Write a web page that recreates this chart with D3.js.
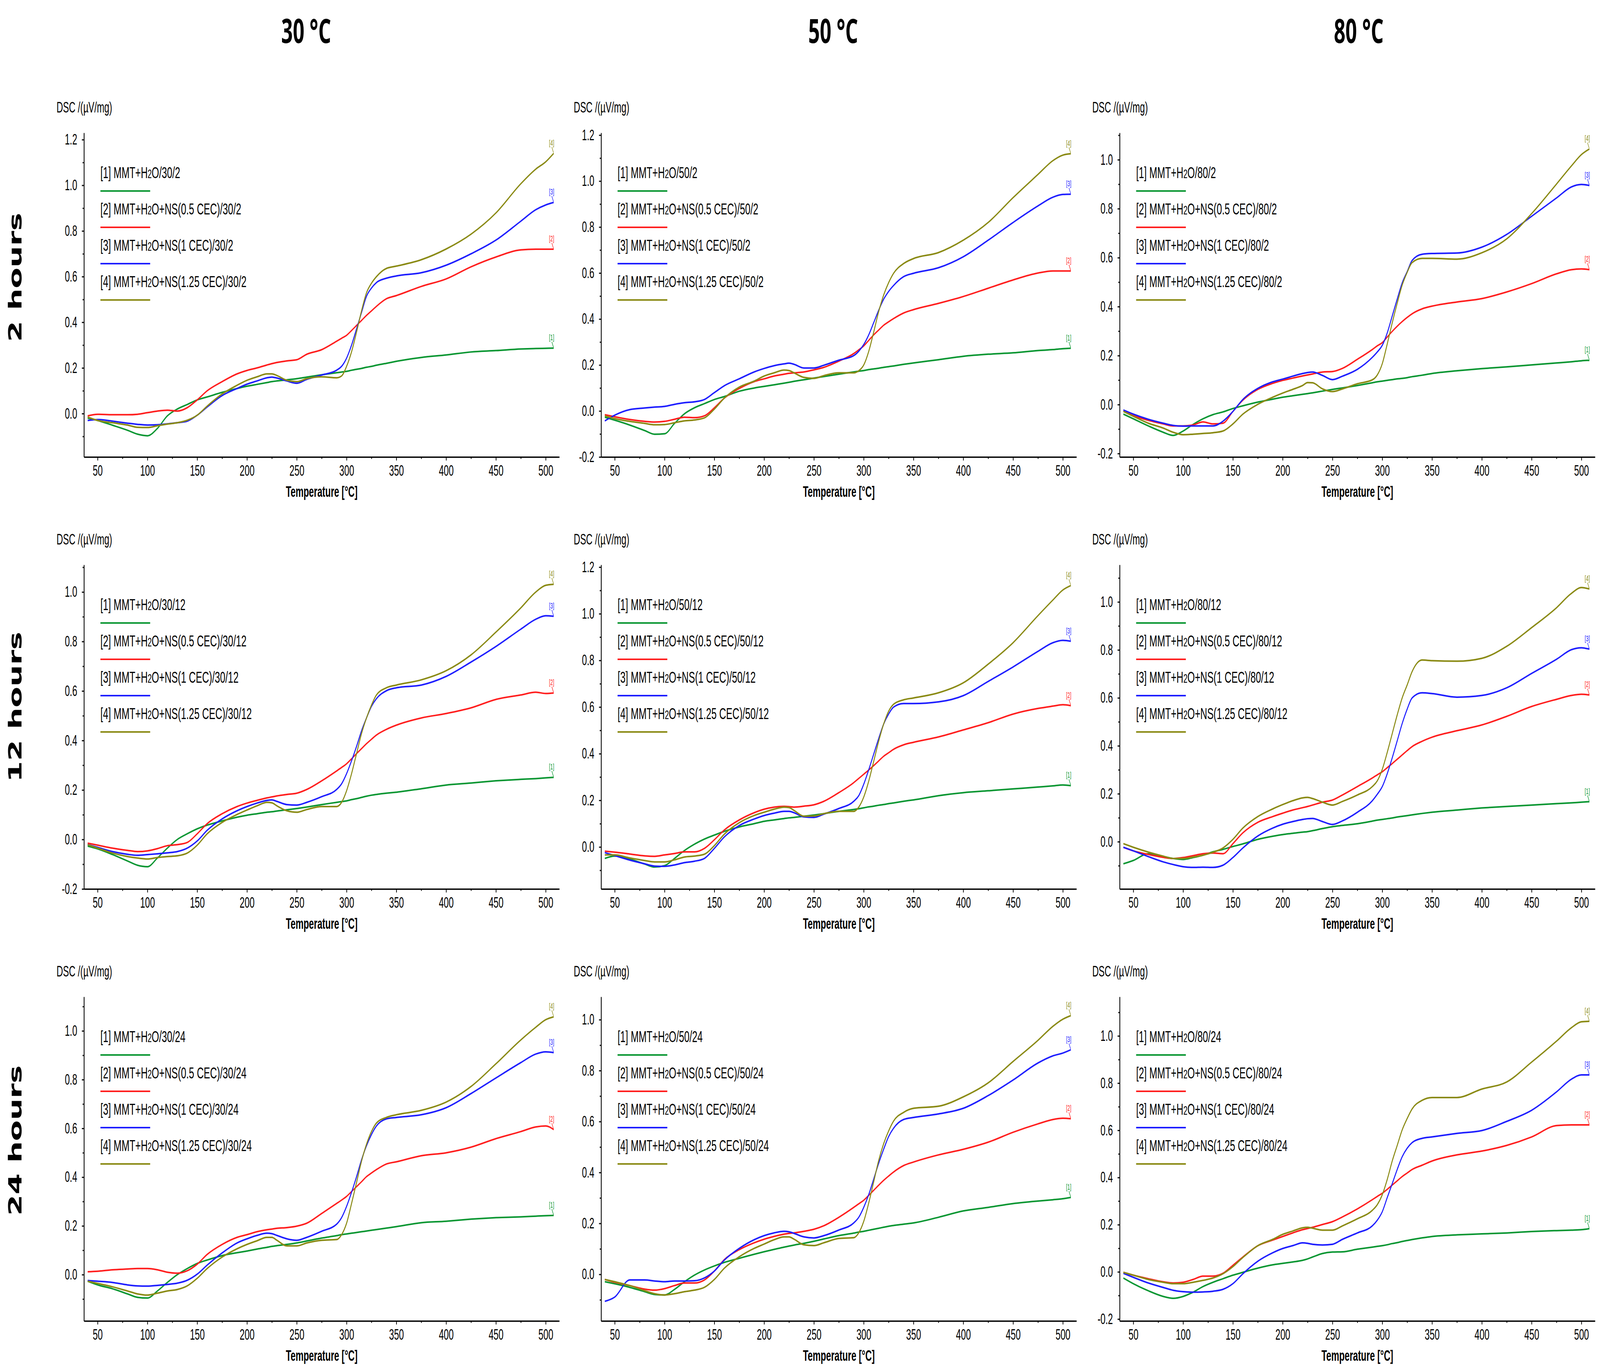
<!DOCTYPE html>
<html><head><meta charset="utf-8">
<script src="https://cdn.jsdelivr.net/npm/d3@7"></script>
<style>html,body{margin:0;padding:0;background:#fff;overflow:hidden}svg{display:block;width:100vw;height:100vh}</style>
</head><body>
<svg id="chart" viewBox="0 0 6819 3505" preserveAspectRatio="none"></svg>
<script>
// ---------------- DATA ----------------
const temps = [40,50,65,80,90,100,110,120,130,140,150,160,175,190,200,210,220,225,230,240,250,260,275,290,295,300,305,310,315,320,325,330,340,350,375,400,425,450,475,490,500,508];

const tempLabels = ["30 °C","50 °C","80 °C"];
const tempCodes  = ["30","50","80"];
const hourLabels = ["2 hours","12 hours","24 hours"];
const hourCodes  = ["2","12","24"];
const seriesNames  = ["MMT+H2O","MMT+H2O+NS(0.5 CEC)","MMT+H2O+NS(1 CEC)","MMT+H2O+NS(1.25 CEC)"];
const seriesColors = ["#0a9632","#ff1e1e","#1e1eff","#8a8a14"];
const xTickValues  = [50,100,150,200,250,300,350,400,450,500];
const xMinorValues = [75,125,175,225,275,325,375,425,475];
const xRange = [36.3, 513.7];
const yMinByPanel = [[-0.19,-0.2,-0.214],[-0.2,-0.18,-0.197],[-0.19,-0.183,-0.208]];
const yMaxByPanel = [[1.23,1.21,1.11],[1.11,1.21,1.155],[1.14,1.09,1.166]];

const dsc30_2 = [
 [-0.02,-0.03,-0.051,-0.073,-0.09,-0.097,-0.065,-0.01,0.02,0.04,0.06,0.073,0.093,0.11,0.12,0.128,0.136,0.14,0.143,0.148,0.153,0.16,0.17,0.179,0.182,0.185,0.19,0.194,0.198,0.203,0.207,0.212,0.22,0.229,0.246,0.257,0.27,0.276,0.283,0.285,0.286,0.287],
 [-0.01,-0.003,-0.005,-0.005,-0.003,0.004,0.011,0.015,0.011,0.026,0.06,0.1,0.14,0.174,0.189,0.2,0.213,0.219,0.224,0.231,0.236,0.26,0.28,0.317,0.33,0.343,0.364,0.386,0.408,0.43,0.45,0.47,0.503,0.517,0.557,0.59,0.643,0.686,0.717,0.72,0.72,0.72],
 [-0.03,-0.026,-0.033,-0.042,-0.047,-0.05,-0.049,-0.045,-0.04,-0.033,-0.007,0.029,0.079,0.11,0.129,0.143,0.157,0.16,0.156,0.143,0.133,0.15,0.169,0.19,0.207,0.243,0.3,0.371,0.443,0.514,0.55,0.574,0.593,0.603,0.617,0.65,0.7,0.76,0.843,0.893,0.914,0.925],
 [-0.015,-0.03,-0.04,-0.05,-0.06,-0.061,-0.053,-0.046,-0.04,-0.029,-0.007,0.033,0.086,0.124,0.146,0.161,0.174,0.174,0.167,0.146,0.14,0.153,0.161,0.157,0.165,0.207,0.271,0.357,0.45,0.529,0.571,0.6,0.636,0.646,0.674,0.721,0.786,0.879,1.007,1.071,1.103,1.14]
];
const dsc50_2 = [
 [-0.027,-0.04,-0.061,-0.085,-0.101,-0.099,-0.054,-0.012,0.014,0.032,0.05,0.063,0.086,0.1,0.107,0.114,0.121,0.125,0.129,0.136,0.143,0.15,0.16,0.17,0.173,0.176,0.18,0.183,0.186,0.19,0.193,0.196,0.203,0.209,0.223,0.238,0.247,0.253,0.263,0.267,0.271,0.273],
 [-0.016,-0.025,-0.037,-0.045,-0.048,-0.045,-0.036,-0.027,-0.029,-0.021,0.014,0.056,0.098,0.128,0.14,0.152,0.16,0.164,0.166,0.17,0.179,0.19,0.217,0.25,0.266,0.283,0.307,0.331,0.352,0.373,0.388,0.402,0.426,0.441,0.468,0.498,0.534,0.57,0.6,0.609,0.609,0.609],
 [-0.043,-0.018,0.006,0.013,0.017,0.02,0.029,0.036,0.04,0.05,0.08,0.11,0.14,0.17,0.185,0.197,0.205,0.208,0.203,0.187,0.187,0.199,0.221,0.241,0.26,0.289,0.331,0.384,0.438,0.486,0.52,0.546,0.584,0.599,0.623,0.671,0.743,0.82,0.892,0.93,0.942,0.943],
 [-0.021,-0.033,-0.045,-0.054,-0.06,-0.059,-0.051,-0.043,-0.039,-0.03,0.008,0.056,0.104,0.13,0.152,0.166,0.178,0.176,0.166,0.146,0.142,0.154,0.166,0.166,0.175,0.2,0.259,0.343,0.432,0.504,0.558,0.599,0.641,0.663,0.689,0.743,0.82,0.928,1.029,1.089,1.113,1.119]
];
const dsc80_2 = [
 [-0.039,-0.058,-0.087,-0.113,-0.126,-0.108,-0.081,-0.058,-0.041,-0.03,-0.016,-0.005,0.01,0.022,0.03,0.036,0.042,0.045,0.048,0.055,0.062,0.068,0.078,0.089,0.093,0.096,0.099,0.102,0.105,0.107,0.11,0.114,0.12,0.127,0.138,0.147,0.154,0.162,0.17,0.175,0.179,0.181],
 [-0.025,-0.045,-0.064,-0.079,-0.087,-0.087,-0.083,-0.071,-0.079,-0.076,-0.028,0.018,0.062,0.087,0.099,0.108,0.117,0.121,0.125,0.133,0.135,0.148,0.185,0.225,0.24,0.253,0.276,0.299,0.32,0.339,0.356,0.371,0.391,0.402,0.419,0.433,0.46,0.494,0.534,0.551,0.554,0.551],
 [-0.022,-0.039,-0.06,-0.076,-0.085,-0.088,-0.087,-0.087,-0.087,-0.068,-0.028,0.021,0.066,0.093,0.104,0.116,0.127,0.131,0.133,0.119,0.102,0.116,0.144,0.193,0.215,0.242,0.293,0.362,0.431,0.497,0.543,0.589,0.614,0.617,0.619,0.643,0.695,0.769,0.844,0.889,0.899,0.895],
 [-0.028,-0.048,-0.076,-0.096,-0.113,-0.123,-0.121,-0.118,-0.115,-0.108,-0.079,-0.039,0.001,0.03,0.047,0.062,0.078,0.09,0.089,0.064,0.053,0.064,0.085,0.101,0.121,0.167,0.248,0.334,0.414,0.488,0.54,0.58,0.597,0.597,0.594,0.62,0.677,0.78,0.901,0.975,1.021,1.044]
];
const dsc30_12 = [
 [-0.027,-0.038,-0.061,-0.087,-0.104,-0.11,-0.075,-0.035,0.0,0.023,0.043,0.058,0.075,0.09,0.098,0.104,0.11,0.112,0.115,0.12,0.125,0.131,0.141,0.15,0.153,0.156,0.161,0.165,0.17,0.175,0.179,0.182,0.187,0.191,0.205,0.22,0.228,0.237,0.243,0.246,0.249,0.251],
 [-0.015,-0.023,-0.035,-0.044,-0.049,-0.046,-0.037,-0.025,-0.021,-0.012,0.023,0.064,0.104,0.133,0.147,0.158,0.168,0.172,0.176,0.182,0.187,0.202,0.237,0.277,0.291,0.306,0.326,0.347,0.367,0.387,0.405,0.422,0.445,0.462,0.491,0.509,0.532,0.566,0.584,0.595,0.59,0.592],
 [-0.021,-0.032,-0.049,-0.06,-0.064,-0.061,-0.058,-0.054,-0.049,-0.035,-0.006,0.037,0.083,0.116,0.133,0.147,0.158,0.16,0.154,0.141,0.139,0.15,0.173,0.202,0.225,0.266,0.318,0.376,0.439,0.491,0.538,0.569,0.601,0.613,0.624,0.659,0.717,0.78,0.85,0.89,0.904,0.902],
 [-0.021,-0.035,-0.055,-0.069,-0.075,-0.079,-0.073,-0.069,-0.066,-0.055,-0.023,0.023,0.069,0.101,0.119,0.136,0.15,0.148,0.136,0.116,0.11,0.121,0.133,0.133,0.15,0.197,0.266,0.347,0.428,0.491,0.543,0.584,0.613,0.624,0.645,0.682,0.746,0.838,0.936,1.0,1.027,1.031]
];
const dsc50_12 = [
 [-0.049,-0.039,-0.052,-0.073,-0.086,-0.08,-0.049,-0.015,0.012,0.034,0.051,0.067,0.086,0.1,0.11,0.116,0.122,0.125,0.127,0.132,0.137,0.143,0.153,0.161,0.164,0.168,0.172,0.175,0.179,0.182,0.186,0.189,0.196,0.202,0.22,0.233,0.241,0.249,0.257,0.262,0.266,0.263],
 [-0.018,-0.022,-0.03,-0.038,-0.04,-0.034,-0.028,-0.021,-0.021,-0.006,0.031,0.073,0.116,0.147,0.162,0.171,0.174,0.173,0.171,0.175,0.181,0.196,0.233,0.276,0.294,0.312,0.33,0.349,0.369,0.389,0.404,0.419,0.438,0.449,0.472,0.502,0.533,0.57,0.594,0.604,0.61,0.606],
 [-0.024,-0.037,-0.056,-0.072,-0.082,-0.083,-0.077,-0.067,-0.061,-0.049,-0.006,0.043,0.092,0.12,0.135,0.145,0.153,0.153,0.147,0.129,0.127,0.141,0.165,0.196,0.22,0.269,0.331,0.398,0.465,0.527,0.57,0.6,0.615,0.615,0.622,0.649,0.71,0.772,0.839,0.876,0.886,0.882],
 [-0.034,-0.034,-0.047,-0.058,-0.064,-0.064,-0.055,-0.043,-0.039,-0.031,0.006,0.055,0.104,0.135,0.149,0.162,0.171,0.169,0.157,0.132,0.133,0.143,0.153,0.153,0.171,0.214,0.282,0.367,0.453,0.527,0.582,0.612,0.631,0.639,0.661,0.704,0.784,0.876,0.992,1.059,1.102,1.121]
];
const dsc80_12 = [
 [-0.092,-0.078,-0.05,-0.062,-0.07,-0.074,-0.066,-0.056,-0.042,-0.032,-0.02,-0.009,0.01,0.023,0.03,0.035,0.04,0.042,0.046,0.055,0.063,0.068,0.075,0.086,0.09,0.093,0.096,0.099,0.103,0.106,0.109,0.112,0.118,0.123,0.132,0.141,0.147,0.153,0.159,0.162,0.165,0.167],
 [-0.023,-0.038,-0.053,-0.065,-0.07,-0.066,-0.058,-0.05,-0.047,-0.05,-0.008,0.037,0.081,0.105,0.119,0.132,0.142,0.147,0.153,0.165,0.174,0.195,0.23,0.266,0.279,0.292,0.309,0.326,0.344,0.362,0.38,0.397,0.419,0.436,0.463,0.487,0.523,0.564,0.594,0.61,0.615,0.612],
 [-0.023,-0.038,-0.062,-0.084,-0.095,-0.104,-0.107,-0.106,-0.107,-0.098,-0.066,-0.026,0.024,0.057,0.073,0.084,0.093,0.096,0.097,0.084,0.072,0.087,0.123,0.171,0.198,0.23,0.284,0.35,0.421,0.493,0.553,0.6,0.621,0.618,0.603,0.61,0.642,0.702,0.761,0.801,0.809,0.803],
 [-0.008,-0.023,-0.043,-0.06,-0.07,-0.07,-0.064,-0.056,-0.044,-0.026,0.01,0.057,0.105,0.137,0.155,0.171,0.183,0.185,0.18,0.165,0.153,0.168,0.195,0.23,0.254,0.302,0.373,0.451,0.529,0.6,0.654,0.71,0.758,0.755,0.753,0.765,0.815,0.893,0.976,1.036,1.06,1.054]
];
const dsc30_24 = [
 [-0.027,-0.042,-0.058,-0.079,-0.093,-0.096,-0.067,-0.032,0.0,0.025,0.046,0.06,0.078,0.09,0.097,0.105,0.112,0.116,0.119,0.124,0.13,0.138,0.15,0.16,0.164,0.167,0.17,0.173,0.176,0.179,0.182,0.185,0.191,0.197,0.213,0.219,0.228,0.234,0.237,0.24,0.242,0.243],
 [0.012,0.014,0.02,0.023,0.025,0.025,0.02,0.01,0.006,0.016,0.043,0.083,0.124,0.153,0.164,0.176,0.184,0.187,0.19,0.193,0.199,0.211,0.251,0.292,0.306,0.321,0.341,0.361,0.381,0.402,0.417,0.431,0.454,0.463,0.488,0.5,0.523,0.558,0.587,0.606,0.61,0.595],
 [-0.024,-0.027,-0.032,-0.042,-0.046,-0.047,-0.044,-0.04,-0.035,-0.023,0.002,0.039,0.089,0.13,0.147,0.161,0.17,0.168,0.161,0.147,0.141,0.153,0.178,0.207,0.234,0.28,0.338,0.402,0.471,0.529,0.575,0.61,0.639,0.645,0.656,0.685,0.743,0.807,0.87,0.905,0.914,0.911],
 [-0.027,-0.036,-0.05,-0.067,-0.079,-0.084,-0.076,-0.067,-0.061,-0.046,-0.015,0.025,0.072,0.106,0.124,0.139,0.153,0.153,0.141,0.118,0.118,0.13,0.141,0.144,0.164,0.211,0.292,0.378,0.465,0.535,0.587,0.622,0.645,0.656,0.674,0.708,0.772,0.865,0.963,1.015,1.046,1.058]
];
const dsc50_24 = [
 [-0.029,-0.037,-0.051,-0.068,-0.079,-0.081,-0.059,-0.029,-0.003,0.017,0.033,0.047,0.063,0.079,0.089,0.098,0.107,0.111,0.115,0.122,0.13,0.139,0.152,0.162,0.166,0.169,0.173,0.177,0.181,0.185,0.189,0.192,0.197,0.202,0.224,0.249,0.263,0.278,0.288,0.293,0.297,0.302],
 [-0.02,-0.031,-0.044,-0.058,-0.062,-0.056,-0.044,-0.034,-0.034,-0.022,0.013,0.058,0.097,0.124,0.138,0.149,0.158,0.161,0.163,0.169,0.177,0.191,0.224,0.263,0.277,0.291,0.31,0.33,0.35,0.369,0.386,0.402,0.427,0.441,0.469,0.491,0.519,0.558,0.591,0.608,0.613,0.611],
 [-0.106,-0.089,-0.022,-0.022,-0.026,-0.029,-0.026,-0.026,-0.025,-0.014,0.013,0.056,0.102,0.136,0.152,0.163,0.169,0.167,0.161,0.147,0.143,0.152,0.174,0.202,0.224,0.263,0.313,0.374,0.436,0.491,0.541,0.574,0.608,0.616,0.63,0.652,0.702,0.763,0.83,0.858,0.869,0.882],
 [-0.02,-0.029,-0.044,-0.064,-0.076,-0.081,-0.076,-0.068,-0.062,-0.051,-0.02,0.024,0.069,0.102,0.119,0.136,0.147,0.147,0.138,0.116,0.113,0.124,0.141,0.144,0.163,0.208,0.28,0.363,0.447,0.513,0.563,0.602,0.636,0.652,0.66,0.697,0.752,0.836,0.919,0.974,1.002,1.016]
];
const dsc80_24 = [
 [-0.026,-0.05,-0.08,-0.104,-0.112,-0.104,-0.086,-0.062,-0.044,-0.029,-0.014,-0.002,0.016,0.03,0.036,0.042,0.049,0.055,0.063,0.078,0.084,0.085,0.096,0.105,0.108,0.111,0.115,0.12,0.124,0.129,0.133,0.137,0.144,0.15,0.157,0.161,0.165,0.171,0.175,0.177,0.179,0.183],
 [-0.002,-0.014,-0.029,-0.042,-0.047,-0.044,-0.032,-0.018,-0.018,-0.006,0.028,0.063,0.111,0.135,0.15,0.165,0.179,0.184,0.189,0.201,0.213,0.233,0.267,0.306,0.32,0.333,0.35,0.368,0.386,0.404,0.419,0.434,0.452,0.47,0.496,0.512,0.536,0.572,0.62,0.623,0.623,0.623],
 [-0.006,-0.023,-0.047,-0.066,-0.078,-0.084,-0.086,-0.085,-0.082,-0.074,-0.05,-0.008,0.045,0.081,0.099,0.111,0.123,0.121,0.117,0.114,0.117,0.138,0.165,0.195,0.219,0.255,0.315,0.374,0.434,0.488,0.524,0.548,0.566,0.572,0.587,0.599,0.638,0.685,0.763,0.817,0.835,0.835],
 [-0.002,-0.014,-0.032,-0.044,-0.05,-0.05,-0.044,-0.036,-0.026,-0.008,0.022,0.061,0.111,0.138,0.159,0.173,0.187,0.189,0.185,0.177,0.177,0.195,0.225,0.261,0.285,0.327,0.392,0.47,0.536,0.602,0.65,0.691,0.727,0.739,0.739,0.775,0.805,0.889,0.978,1.035,1.06,1.062]
];
const panelData = [[dsc30_2, dsc50_2, dsc80_2],[dsc30_12, dsc50_12, dsc80_12],[dsc30_24, dsc50_24, dsc80_24]];

// ---------------- LAYOUT ----------------
const colX = [358, 2562, 4772];
const rowTop = [340, 1446, 2552];
const plotW = 2026, plotH = 830;
const titleX = [1305, 3551, 5791];
const rowLabelY = [710, 1810, 2920];
const FONT = "'Liberation Sans', Arial, Helvetica, sans-serif";

const svg = d3.select("#chart");
svg.append("rect").attr("width",6819).attr("height",3505).attr("fill","#fff");

tempLabels.forEach((t,i)=>{
  svg.append("text").attr("x",titleX[i]).attr("y",110).attr("text-anchor","middle")
    .attr("font-family","'Open Sans', Lato, sans-serif").attr("font-weight",700)
    .attr("font-size",86).attr("fill","#000").text(t);
});
hourLabels.forEach((t,i)=>{
  svg.append("text").attr("transform",`translate(91,${rowLabelY[i]}) rotate(-90)`)
    .attr("text-anchor","middle").attr("font-family","'DejaVu Sans', Verdana, sans-serif")
    .attr("font-weight",700).attr("font-size",78).attr("fill","#000").text(t);
});

const fmt = v => (Math.abs(v) < 1e-9 ? 0 : v).toFixed(1);

for (let r=0; r<3; r++){
  for (let c=0; c<3; c++){
    const g = svg.append("g").attr("transform",`translate(${colX[c]},${rowTop[r]})`);
    const x = d3.scaleLinear().domain(xRange).range([0,plotW]);
    const y = d3.scaleLinear().domain([yMinByPanel[r][c], yMaxByPanel[r][c]]).range([plotH,0]);

    const lo = Math.ceil(yMinByPanel[r][c]*10 - 1e-6), hi = Math.floor(yMaxByPanel[r][c]*10 + 1e-6);
    const major = [], minor = [];
    for (let k=lo; k<=hi; k++){ (k % 2 === 0 ? major : minor).push(k/10); }

    const yMinorAxis = g.append("g").call(d3.axisLeft(y).tickValues(minor).tickSize(6).tickSizeOuter(0).tickFormat(""));
    yMinorAxis.select(".domain").remove();
    yMinorAxis.selectAll("line").attr("stroke","#000").attr("stroke-width",3);

    const yAxis = g.append("g").call(d3.axisLeft(y).tickValues(major).tickSize(9).tickSizeOuter(0).tickPadding(20).tickFormat(fmt));
    yAxis.select(".domain").attr("stroke","#000").attr("stroke-width",3.5);
    yAxis.selectAll("line").attr("stroke","#000").attr("stroke-width",3);
    yAxis.selectAll("text").attr("font-family",FONT).attr("font-size",38).attr("fill","#000");

    const xMinorAxis = g.append("g").attr("transform",`translate(0,${plotH})`)
      .call(d3.axisBottom(x).tickValues(xMinorValues).tickSize(5).tickSizeOuter(0).tickFormat(""));
    xMinorAxis.select(".domain").remove();
    xMinorAxis.selectAll("line").attr("stroke","#000").attr("stroke-width",3);

    const xAxis = g.append("g").attr("transform",`translate(0,${plotH})`)
      .call(d3.axisBottom(x).tickValues(xTickValues).tickSize(9).tickSizeOuter(0).tickPadding(12).tickFormat(d3.format("d")));
    xAxis.select(".domain").attr("stroke","#000").attr("stroke-width",3.5);
    xAxis.selectAll("line").attr("stroke","#000").attr("stroke-width",3);
    xAxis.selectAll("text").attr("font-family",FONT).attr("font-size",38).attr("fill","#000");

    g.append("text").attr("x",-117).attr("y",-52).attr("font-family",FONT).attr("font-size",38)
      .attr("fill","#000").text("DSC /(µV/mg)");
    g.append("text").attr("x",plotW/2).attr("y",plotH+102).attr("text-anchor","middle")
      .attr("font-family",FONT).attr("font-size",38).attr("font-weight",700).attr("fill","#000")
      .text("Temperature [°C]");

    const series = panelData[r][c];
    const line = d3.line().x(d=>x(d[0])).y(d=>y(d[1])).curve(d3.curveMonotoneX);
    series.forEach((vals,si)=>{
      const pts = temps.map((t,i)=>[t, vals[i]]).filter(p=>p[1]!==undefined);
      g.append("path").attr("d",line(pts)).attr("fill","none")
        .attr("stroke",seriesColors[si]).attr("stroke-width",4).attr("stroke-linejoin","round");
      const last = pts[pts.length-1];
      const ex = x(last[0]), ey = y(last[1]);
      g.append("line").attr("x1",ex-8).attr("y1",ey-16).attr("x2",ex-1).attr("y2",ey-2)
        .attr("stroke",seriesColors[si]).attr("stroke-width",2);
      g.append("text").attr("x",ex-9).attr("y",ey-20).attr("text-anchor","middle")
        .attr("font-family",FONT).attr("font-size",20).attr("fill",seriesColors[si])
        .text(`[${si+1}]`);
    });

    seriesNames.forEach((name,si)=>{
      const ty = 102 + si*93;
      const parts = name.split("H2O");
      const t = g.append("text").attr("x",70).attr("y",ty).attr("dy","0.35em")
        .attr("font-family",FONT).attr("font-size",40.5).attr("fill","#000");
      t.append("tspan").text(`[${si+1}] ${parts[0]}H`);
      t.append("tspan").attr("font-size",31).text("2");
      t.append("tspan").text(`O${parts[1]}/${tempCodes[c]}/${hourCodes[r]}`);
      g.append("line").attr("x1",70).attr("x2",282).attr("y1",ty+47).attr("y2",ty+47)
        .attr("stroke",seriesColors[si]).attr("stroke-width",4);
    });
  }
}
</script>
</body></html>
